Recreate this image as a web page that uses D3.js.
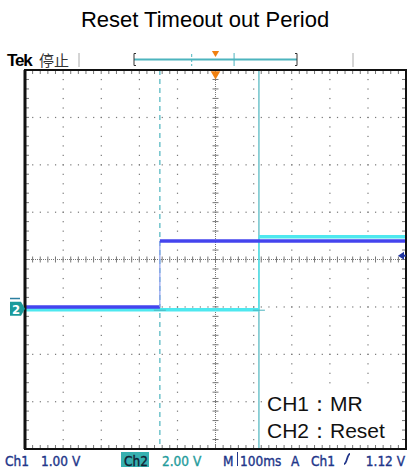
<!DOCTYPE html>
<html>
<head>
<meta charset="utf-8">
<script src="https://cdn.jsdelivr.net/npm/d3@7"></script>
<style>
  body { margin: 0; background: #fff; }
  svg { display: block; }
</style>
</head>
<body>
<svg width="409" height="467"></svg>
<script>
// trace data, time in ms (100 ms/div), level in volts
var ch1Time = [-500, -146, -146, 500];
var ch1Volts = [0.04, 0.04, 1.43, 1.43];
var ch2Time = [-500, 114, 114, 500];
var ch2Volts = [-0.04, -0.04, 3.04, 3.04];
var voltsPerDiv = [1.0, 2.0];
var groundDiv = -1.04;
var cursorMs = [-146, 114];
var triggerVolts = 1.12;
var statusLabels = ["Ch1", "1.00 V", "Ch2", "2.00 V", "M", "100ms", "A", "Ch1", "1.12 V"];
var legendLines = ["CH1：MR", "CH2：Reset"];

var svg = d3.select("svg"),
    margin = {top: 70, right: 3, bottom: 18, left: 25},
    width = 409 - margin.left - margin.right,
    height = 467 - margin.top - margin.bottom;

var x = d3.scaleLinear().domain([-500, 500]).range([margin.left, margin.left + width]),
    y = d3.scaleLinear().domain([-4, 4]).range([margin.top + height, margin.top]);

var gridCol = "#777", teal = "#4cb4be";

svg.append("text")
    .attr("x", 205).attr("y", 27)
    .attr("text-anchor", "middle")
    .style("font", "22px 'Liberation Sans', Arial, sans-serif")
    .text("Reset Timeout out Period");

// header strip
svg.append("text").attr("x", 7).attr("y", 66)
    .style("font", "bold 17px 'Liberation Sans', sans-serif").attr("letter-spacing", "-1.2")
    .text("Tek");
svg.append("text").attr("x", 39).attr("y", 66)
    .style("font", "15px 'Noto Sans CJK SC', sans-serif").attr("fill", "#333")
    .text("停止");
[79, 353].forEach(function (px) {
    svg.append("line").attr("x1", px).attr("x2", px).attr("y1", 53).attr("y2", 67)
        .attr("stroke", "#aaa").attr("stroke-width", 1);
});
var rec = d3.scaleLinear().domain([-500, 500]).range([134, 297]);
svg.append("line").attr("x1", rec(-500)).attr("x2", rec(500)).attr("y1", 59.5).attr("y2", 59.5)
    .attr("stroke", teal).attr("stroke-width", 2);
svg.append("path").attr("d", "M" + (rec(-500) + 2) + ",53.5h-2v12h2").attr("fill", "none").attr("stroke", "#333");
svg.append("path").attr("d", "M" + (rec(500) - 2) + ",53.5h2v12h-2").attr("fill", "none").attr("stroke", "#333");
svg.append("line").attr("x1", rec(cursorMs[0])).attr("x2", rec(cursorMs[0])).attr("y1", 54).attr("y2", 66)
    .attr("stroke", teal).attr("stroke-dasharray", "3,2");
svg.append("line").attr("x1", rec(cursorMs[1])).attr("x2", rec(cursorMs[1])).attr("y1", 53).attr("y2", 66)
    .attr("stroke", teal);
svg.append("path").attr("d", d3.symbol(d3.symbolTriangle, 22)())
    .attr("transform", "translate(" + rec(0) + ",53) rotate(180)").attr("fill", "#f08010");

// grid
var g = svg.append("g");
var majX = d3.range(-500, 501, 100), majY = d3.range(-4, 5, 1);
var minX = d3.range(-500, 501, 20), minY = d3.range(-4, 4.01, 0.2);

majY.slice(1, -1).forEach(function (dv) {
    if (dv === 0) return;
    g.selectAll(null).data(minX).enter().append("rect")
        .attr("x", function (t) { return x(t) - 0.5; }).attr("y", y(dv) - 0.5)
        .attr("width", 1.2).attr("height", 1.2).attr("fill", gridCol);
});
majX.slice(1, -1).forEach(function (t) {
    if (t === 0) return;
    g.selectAll(null).data(minY).enter().append("rect")
        .attr("x", x(t) - 0.5).attr("y", function (dv) { return y(dv) - 0.5; })
        .attr("width", 1.2).attr("height", 1.2).attr("fill", gridCol);
});

// centre cross with ticks
g.append("line").attr("x1", x(-500)).attr("x2", x(500)).attr("y1", y(0)).attr("y2", y(0))
    .attr("stroke", gridCol).attr("stroke-dasharray", "1,1");
g.append("line").attr("x1", x(0)).attr("x2", x(0)).attr("y1", y(-4)).attr("y2", y(4))
    .attr("stroke", gridCol).attr("stroke-dasharray", "1,1");
g.selectAll(".tx").data(minX).enter().append("line")
    .attr("x1", function (t) { return x(t); }).attr("x2", function (t) { return x(t); })
    .attr("y1", y(0) - 3).attr("y2", y(0) + 3).attr("stroke", gridCol);
g.selectAll(".ty").data(minY).enter().append("line")
    .attr("y1", function (dv) { return y(dv); }).attr("y2", function (dv) { return y(dv); })
    .attr("x1", x(0) - 3).attr("x2", x(0) + 3).attr("stroke", gridCol);

// border ticks
g.selectAll(".bt").data(minX).enter().append("line")
    .attr("x1", function (t) { return x(t); }).attr("x2", function (t) { return x(t); })
    .attr("y1", y(4)).attr("y2", y(4) + 4).attr("stroke", gridCol);
g.selectAll(".bb").data(minX).enter().append("line")
    .attr("x1", function (t) { return x(t); }).attr("x2", function (t) { return x(t); })
    .attr("y1", y(-4)).attr("y2", y(-4) - 4).attr("stroke", gridCol);
g.selectAll(".bl").data(minY).enter().append("line")
    .attr("y1", function (dv) { return y(dv); }).attr("y2", function (dv) { return y(dv); })
    .attr("x1", x(-500)).attr("x2", x(-500) + 4).attr("stroke", gridCol);
g.selectAll(".br").data(minY).enter().append("line")
    .attr("y1", function (dv) { return y(dv); }).attr("y2", function (dv) { return y(dv); })
    .attr("x1", x(500)).attr("x2", x(500) - 4).attr("stroke", gridCol);

// legend backing
svg.append("rect").attr("x", 264).attr("y", 391).attr("width", 138).attr("height", 52).attr("fill", "#fff");

// cursors
svg.append("line").attr("x1", x(cursorMs[0])).attr("x2", x(cursorMs[0])).attr("y1", y(4)).attr("y2", y(-4))
    .attr("stroke", teal).attr("stroke-width", 1.2).attr("stroke-dasharray", "5,4");
svg.append("line").attr("x1", x(cursorMs[1])).attr("x2", x(cursorMs[1])).attr("y1", y(4)).attr("y2", y(-4))
    .attr("stroke", teal).attr("stroke-width", 1.2);

// traces
function lvl(v, ch) { return y(groundDiv + v / voltsPerDiv[ch]); }
function drawTrace(times, volts, ch, col, edgeCol) {
    for (var i = 0; i < times.length - 1; i++) {
        var flat = volts[i] === volts[i + 1];
        svg.append("line")
            .attr("x1", x(times[i])).attr("x2", x(times[i + 1]))
            .attr("y1", lvl(volts[i], ch)).attr("y2", lvl(volts[i + 1], ch))
            .attr("stroke", flat ? col : edgeCol)
            .attr("stroke-width", flat ? 3.5 : 1.2);
    }
}
drawTrace(ch2Time, ch2Volts, 1, "#4ee8ef", "#4ee8ef");
drawTrace(ch1Time, ch1Volts, 0, "#4444ee", "#8f9ff0");

// cursor crossings
[cursorMs[0], cursorMs[1]].forEach(function (t) {
    svg.append("line").attr("x1", x(t) - 6).attr("x2", x(t) + 6)
        .attr("y1", lvl(ch2Volts[0], 1) + 0.5).attr("y2", lvl(ch2Volts[0], 1) + 0.5)
        .attr("stroke", teal).attr("stroke-width", 1);
});

// frame
svg.append("rect").attr("x", x(-500)).attr("y", y(4)).attr("width", width).attr("height", height)
    .attr("fill", "none").attr("stroke", "#111").attr("stroke-width", 2);
svg.append("line").attr("x1", x(-500)).attr("x2", x(-500)).attr("y1", y(4)).attr("y2", y(-4))
    .attr("stroke", "#111").attr("stroke-width", 3);

// trigger marker top
svg.append("path").attr("d", d3.symbol(d3.symbolTriangle, 40)())
    .attr("transform", "translate(" + x(0) + "," + (y(4) + 4) + ") rotate(180)").attr("fill", "#f08010");

// ground marker ch2
var gy = y(groundDiv);
svg.append("rect").attr("x", 10).attr("y", gy - 11).attr("width", 10).attr("height", 1.5).attr("fill", "#2c7fa0");
svg.append("path").attr("d", "M10," + (gy - 7) + "h11l4,7l-4,7h-11z").attr("fill", "#1a9a9a");
svg.append("text").attr("x", 16).attr("y", gy + 5).attr("text-anchor", "middle")
    .style("font", "bold 13px 'DejaVu Sans Condensed', sans-serif").attr("fill", "#fff").text("2");

// trigger level arrow right
var ty = lvl(triggerVolts, 0);
svg.append("path").attr("d", "M" + (x(500) - 8) + "," + ty + "l6,-4v8z").attr("fill", "#2035a0");
svg.append("line").attr("x1", x(500) - 4).attr("x2", x(500)).attr("y1", ty).attr("y2", ty)
    .attr("stroke", "#2035a0").attr("stroke-width", 2);

// legend
svg.selectAll(".leg").data(legendLines).enter().append("text")
    .attr("x", 267).attr("y", function (d, i) { return 411 + i * 27; })
    .style("font", "21px 'Liberation Sans', Arial, sans-serif").attr("fill", "#111")
    .text(function (d) { return d; });

// status line
var st = svg.append("g").style("font", "13.5px 'DejaVu Sans Condensed', sans-serif");
var dark = "#22368a", tealTxt = "#1f9c9c";
var statusX = [5, 41, 124, 162, 223, 240, 291, 311, 405];
var statusCol = [dark, dark, "#123", tealTxt, dark, dark, dark, dark, dark];
st.append("rect").attr("x", 121).attr("y", 452).attr("width", 28).attr("height", 15).attr("fill", "#36b0b0");
st.selectAll("text").data(statusLabels).enter().append("text")
    .attr("x", function (d, i) { return statusX[i]; }).attr("y", 465.5)
    .attr("text-anchor", function (d, i) { return i === statusLabels.length - 1 ? "end" : "start"; })
    .attr("fill", function (d, i) { return statusCol[i]; })
    .attr("stroke", function (d, i) { return statusCol[i]; }).attr("stroke-width", 0.35)
    .text(function (d) { return d; });
st.append("line").attr("x1", 237.5).attr("x2", 237.5).attr("y1", 452).attr("y2", 466).attr("stroke", dark);
st.append("path").attr("d", "M344,464c3,0 3,-10 6,-10").attr("fill", "none").attr("stroke", dark).attr("stroke-width", 1.8);
</script>
</body>
</html>
